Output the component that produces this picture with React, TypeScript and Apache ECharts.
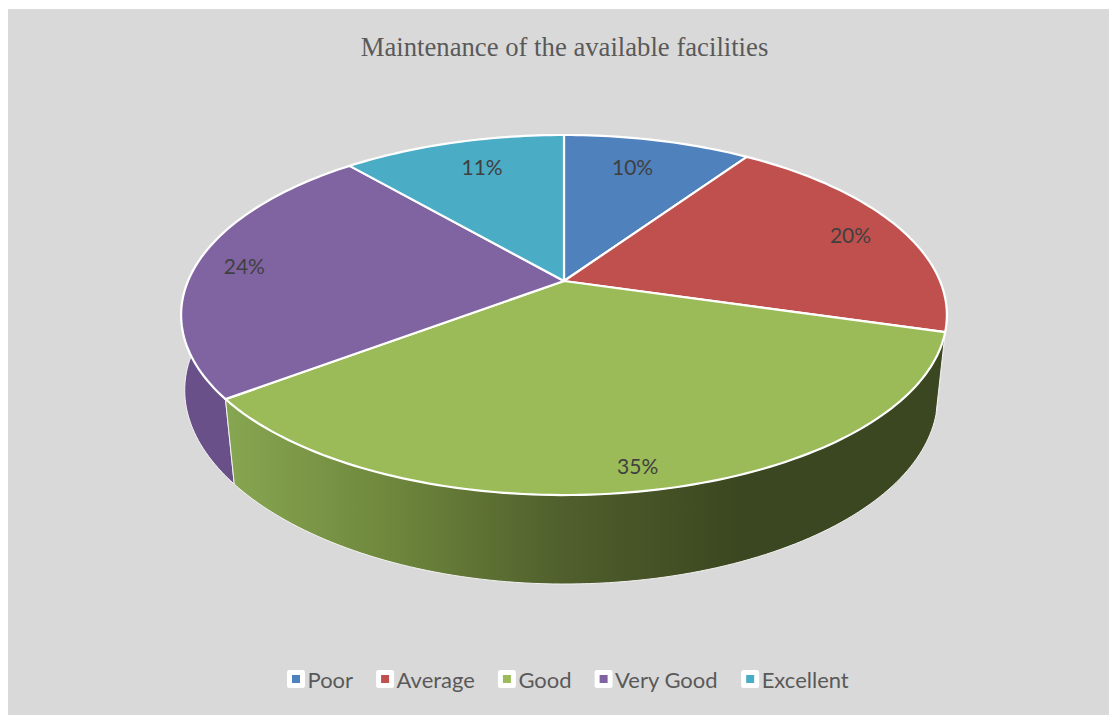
import React, { useEffect, useRef } from "react";
import * as echarts from "echarts";

const categories = ["Poor", "Average", "Good", "Very Good", "Excellent"];
const shares = [9.5, 20, 35.2, 24, 11.3];
const topColors = ["#4F81BD", "#C0504D", "#9BBB59", "#8064A2", "#4BACC6"];
const wallColors = ["#3B5F8C", "#8E3B39", "#3D4A20", "#6A5088", "#37808F"];
const labelRadius = [0.78, 0.85, 0.9, 0.87, 0.79];
const labelShift = [-0.45, 0.15, 0, 0, 0.55];

const TITLE = "Maintenance of the available facilities";

// perspective projection of the pie's unit disc
const APEX_X = 564, APEX_Y = 281, RX = 376, RY = 173.6, K = 0.1889;
const project = (r: number, share: number): [number, number] => {
  const t = (share / 100) * Math.PI * 2;
  const X = r * Math.sin(t);
  const v = -r * Math.cos(t);
  const w = 1 - K * v;
  return [APEX_X + (RX * X) / w, APEX_Y + (RY * v) / w];
};
const drop = (p: [number, number]): [number, number] => {
  const s = p[0] < APEX_X ? 0.99 - (p[1] - 315) * 0.00019 : 0.976;
  return [APEX_X + (p[0] - APEX_X) * s, p[1] + 68.6 + 0.0412 * p[1]];
};
const arc = (from: number, to: number): [number, number][] => {
  const n = Math.max(2, Math.ceil((to - from) * 3));
  const out: [number, number][] = [];
  for (let i = 0; i <= n; i++) out.push(project(1, from + ((to - from) * i) / n));
  return out;
};

const starts = shares.map((_, i) => shares.slice(0, i).reduce((a, b) => a + b, 0));

const greenWallFill = {
  type: "linear", x: 233, y: 0, x2: 740, y2: 0, global: true,
  colorStops: [
    { offset: 0, color: "#86A550" },
    { offset: 0.3, color: "#6F883D" },
    { offset: 0.65, color: "#505F2C" },
    { offset: 1, color: "#3B4720" },
  ],
};

const wallSeries = [1, 0, 4, 3, 2].map((i) => ({
  type: "custom",
  name: "wall " + categories[i],
  coordinateSystem: "none",
  silent: true,
  z: 1,
  data: [[starts[i], shares[i]]],
  renderItem: (_p: any, api: any) => {
    const s = api.value(0), v = api.value(1);
    const top = arc(s, s + v);
    const points = [...top, ...top.slice().reverse().map(drop)];
    return {
      type: "polygon",
      shape: { points },
      style: {
        fill: i === 2 ? greenWallFill : wallColors[i],
        stroke: "#F2F2F2",
        lineWidth: 1,
      },
    };
  },
}));

const topSeries = categories.map((name, i) => ({
  type: "custom",
  name,
  coordinateSystem: "none",
  silent: true,
  z: 2,
  itemStyle: { color: topColors[i] },
  data: [[starts[i], shares[i]]],
  renderItem: (_p: any, api: any) => {
    const s = api.value(0), v = api.value(1);
    const points = [[APEX_X, APEX_Y], ...arc(s, s + v)];
    return {
      type: "polygon",
      shape: { points },
      style: { fill: topColors[i], stroke: "#FFFFFF", lineWidth: 2.2, lineJoin: "round" },
    };
  },
}));

const labelSeries = {
  type: "custom",
  name: "labels",
  coordinateSystem: "none",
  silent: true,
  z: 3,
  data: shares.map((v, i) => [starts[i], v, labelRadius[i], labelShift[i]]),
  renderItem: (_p: any, api: any) => {
    const s = api.value(0), v = api.value(1), r = api.value(2), d = api.value(3);
    const [x, y] = project(r, s + v / 2 + d);
    return {
      type: "text",
      x,
      y,
      style: {
        text: Math.round(v) + "%",
        fill: "#404040",
        font: "21px Lato, sans-serif",
        align: "center",
        verticalAlign: "middle",
      },
    };
  },
};

export default function App() {
  const ref = useRef<HTMLDivElement>(null);
  useEffect(() => {
    const chart = echarts.init(ref.current!, undefined, { renderer: "svg" });
    chart.setOption({
      animation: false,
      backgroundColor: "#FFFFFF",
      title: {
        text: TITLE,
        left: 559.5,
        top: 28,
        textAlign: "center",
        textStyle: { fontFamily: "Liberation Serif", fontSize: 26.7, fontWeight: "normal", color: "#595959" },
      },
      legend: {
        data: categories,
        left: 282,
        top: 663,
        itemWidth: 13,
        itemHeight: 13,
        itemGap: 23,
        icon: "rect",
        itemStyle: { borderColor: "#FFFFFF", borderWidth: 5, borderJoin: "round" },
        textStyle: { fontFamily: "Lato", fontSize: 22, color: "#595959" },
        selectedMode: false,
      },
      graphic: [
        {
          type: "rect",
          z: -10,
          silent: true,
          shape: { x: 8, y: 9, width: 1101, height: 706 },
          style: { fill: "#D9D9D9" },
        },
      ],
      series: [...wallSeries, ...topSeries, labelSeries],
    });
    return () => chart.dispose();
  }, []);
  return <div ref={ref} style={{ position: "absolute", left: 0, top: 0, width: 1109, height: 715 }} />;
}
